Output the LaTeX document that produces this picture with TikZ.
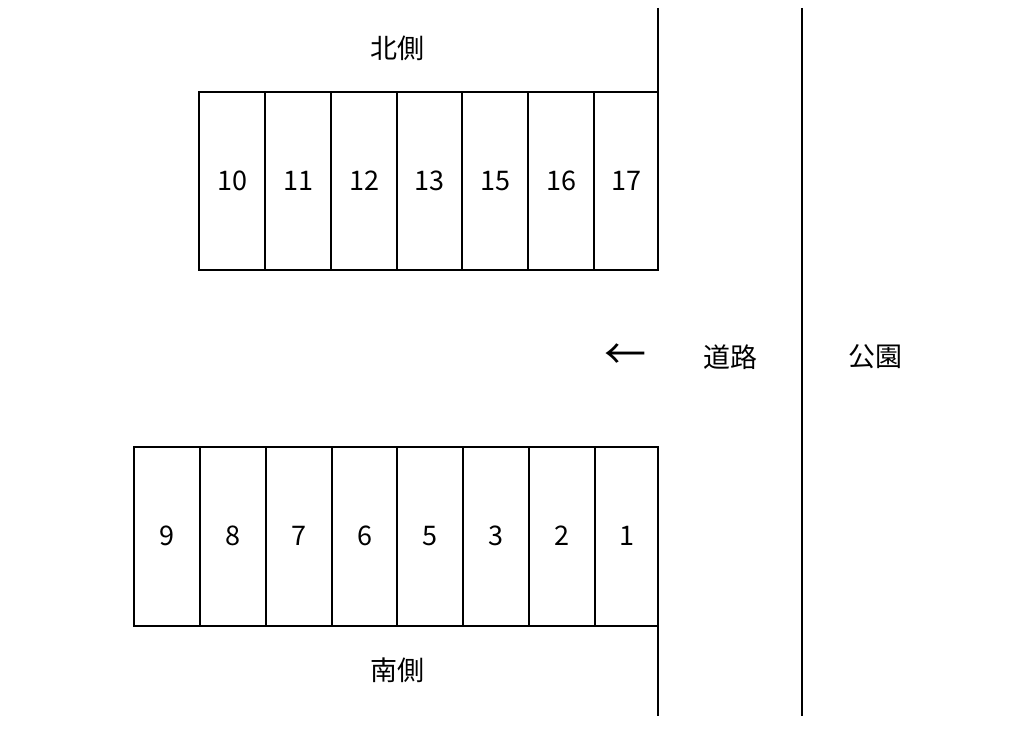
\documentclass[tikz,border=0pt]{standalone}
\usepackage{fontspec}
\setmainfont{Noto Sans CJK JP}
\begin{document}
\begin{tikzpicture}[x=1pt,y=-1pt,line width=1.6pt,
  lbl/.style={font=\fontsize{27}{30}\selectfont},
  num/.style={font=\fontsize{27}{30}\selectfont}]
\useasboundingbox (0,0) rectangle (1021,751);
% top row
\foreach \a/\b/\t [count=\i] in {199/265/10,265/331/11,331/397/12,397/462/13,462/528/15,528/594/16,594/658/17}{
  \draw (\a,92) rectangle (\b,270);
  \node[num] (t\i) at ({(\a+\b)/2},181) {\t};
}
\foreach \a/\b/\t [count=\i] in {134/200/9,200/266/8,266/332/7,332/397/6,397/463/5,463/529/3,529/595/2,595/658/1}{
  \draw (\a,447) rectangle (\b,626);
  \node[num] (b\i) at ({(\a+\b)/2},536) {\t};
}
\draw (658,8) -- (658,92);
\draw (658,626) -- (658,716);
\draw (802,8) -- (802,716);
\node[lbl] (n) at (397,48) {北側};
\node[lbl] (s) at (397,670) {南側};
\node[font=\fontsize{42}{44}\selectfont] (arr) at (625,357) {←};
\node[lbl] (road) at (730,357) {道路};
\node[lbl] (park) at (875,357) {公園};
\end{tikzpicture}
\end{document}
